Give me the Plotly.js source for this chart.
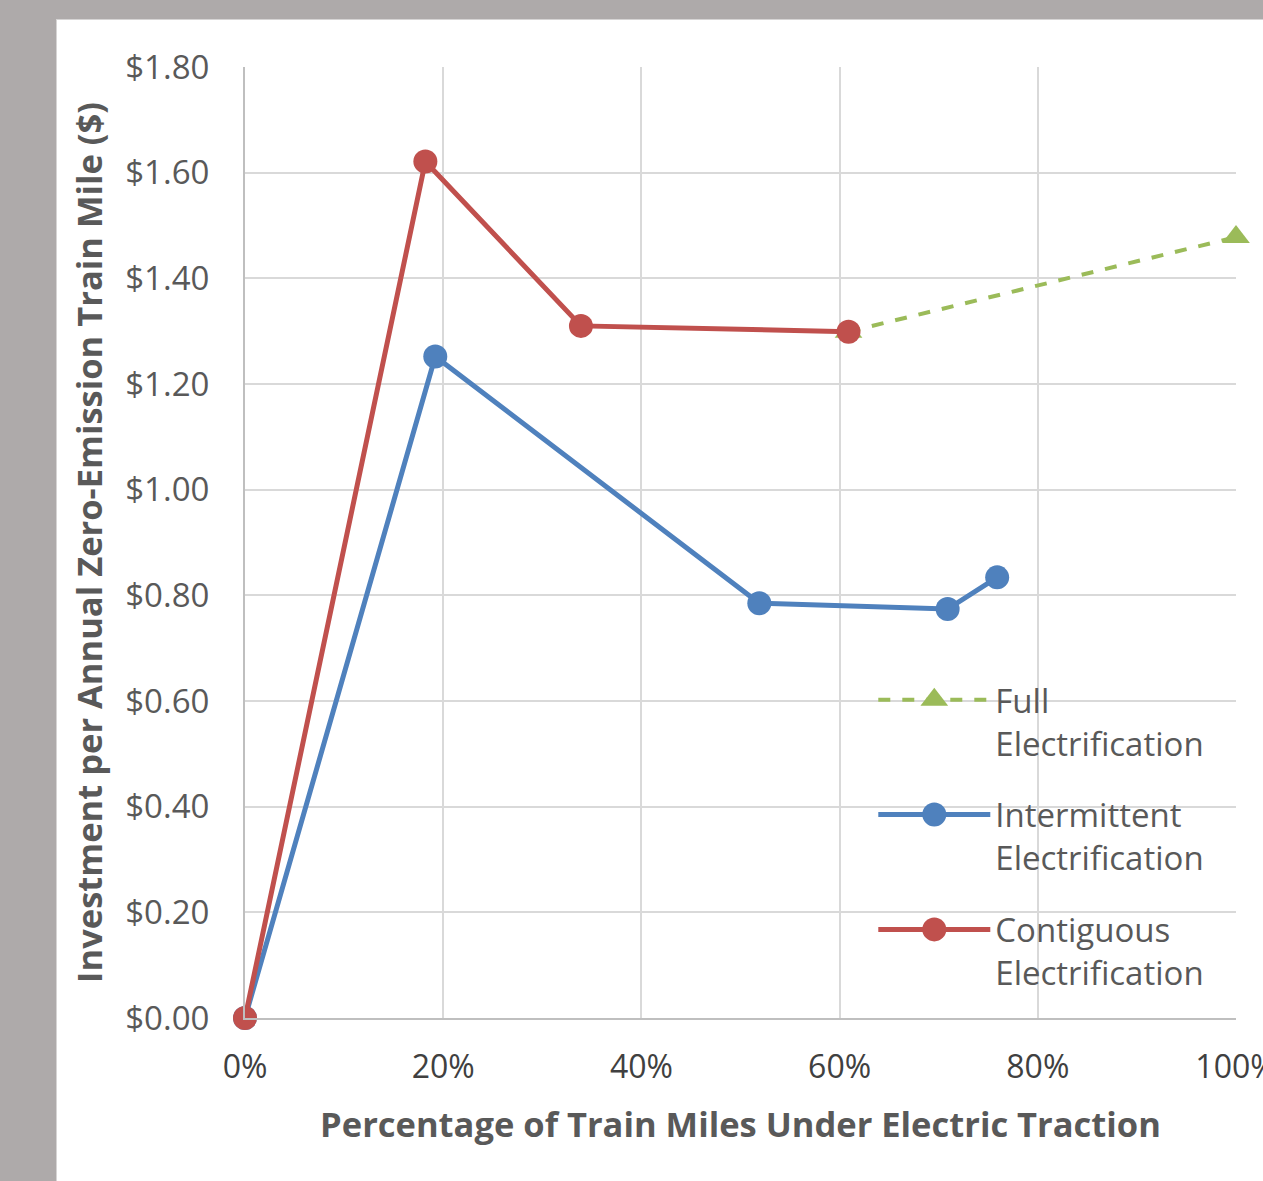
<!DOCTYPE html>
<html>
<head>
<meta charset="utf-8">
<script src="https://cdn.plot.ly/plotly-3.0.1.min.js"></script>
<style>
  html, body { margin:0; padding:0; width:1263px; height:1181px; overflow:hidden; background:#AEAAAA; }
  #panel { position:absolute; left:56px; top:19px; width:1260px; height:1200px; background:#fff; border-left:2px solid #D6D4D4; border-top:2px solid #D6D4D4; }
  #chart { position:absolute; left:57px; top:20px; width:1250px; height:1161px; }
</style>
</head>
<body>
<div id="panel"></div>
<div id="chart"></div>
<script>
// Data
const seriesNames = ["Full<br>Electrification", "Intermittent<br>Electrification", "Contiguous<br>Electrification"];

const fullX = [0.609, 1.00];
const fullY = [1.299, 1.478];

const intermittentX = [0.00, 0.192, 0.519, 0.709, 0.759];
const intermittentY = [0.00, 1.252, 0.785, 0.774, 0.834];

const contiguousX = [0.00, 0.182, 0.339, 0.609];
const contiguousY = [0.00, 1.621, 1.310, 1.299];

const xTickVals = [0, 0.2, 0.4, 0.6, 0.8, 1.0];
const yTickVals = [0, 0.2, 0.4, 0.6, 0.8, 1.0, 1.2, 1.4, 1.6, 1.8];

const colors = { full: "#9BBB59", intermittent: "#4F81BD", contiguous: "#C0504D" };
const FONT = "Open Sans, Noto Sans, sans-serif";

const traces = [
  {
    x: fullX, y: fullY, name: seriesNames[0], legendgroup: "full", type: "scatter", mode: "lines+markers",
    cliponaxis: false,
    line: { color: colors.full, width: 4, dash: "dash" },
    marker: { symbol: "triangle-up", size: 24, color: colors.full }
  },
  {
    x: intermittentX, y: intermittentY, name: seriesNames[1], legendgroup: "inter", type: "scatter", mode: "lines+markers",
    cliponaxis: false,
    line: { color: colors.intermittent, width: 5 },
    marker: { symbol: "circle", size: 24, color: colors.intermittent }
  },
  {
    x: contiguousX, y: contiguousY, name: seriesNames[2], legendgroup: "contig", type: "scatter", mode: "lines+markers",
    cliponaxis: false,
    line: { color: colors.contiguous, width: 5 },
    marker: { symbol: "circle", size: 24, color: colors.contiguous }
  }
];

const layout = {
  width: 1250, height: 1161,
  margin: { l: 188, r: 71, t: 47, b: 163 },
  paper_bgcolor: "#ffffff",
  plot_bgcolor: "#ffffff",
  font: { family: FONT, size: 33, color: "#595959" },
  showlegend: true,
  legend: {
    x: 0.634, y: 0.364, xanchor: "left", yanchor: "top",
    bgcolor: "rgba(0,0,0,0)",
    font: { family: FONT, size: 33, color: "#595959" },
    itemwidth: 112,
    itemsizing: "trace",
    valign: "top",
    tracegroupgap: 26
  },
  xaxis: {
    range: [0, 1],
    tickvals: xTickVals,
    tickformat: ".0%",
    tickfont: { family: FONT, size: 32, color: "#404040" },
    ticklabelstandoff: 20,
    showgrid: true, gridcolor: "#D9D9D9", gridwidth: 2,
    showline: true, linecolor: "#BFBFBF", linewidth: 2,
    zeroline: false,
    ticks: "",
    fixedrange: true,
    title: { text: "<b>Percentage of Train Miles Under Electric Traction</b>", font: { family: FONT, size: 34.5, color: "#595959" }, standoff: 26 }
  },
  yaxis: {
    range: [0, 1.8],
    tickvals: yTickVals,
    tickformat: "$.2f",
    tickfont: { family: FONT, size: 33, color: "#595959" },
    ticklabelstandoff: 27,
    showgrid: true, gridcolor: "#D9D9D9", gridwidth: 2,
    showline: true, linecolor: "#BFBFBF", linewidth: 2,
    mirror: false,
    zeroline: false,
    ticks: "",
    fixedrange: true,
    title: { text: "<b>Investment per Annual Zero-Emission Train Mile ($)</b>", font: { family: FONT, size: 34.5, color: "#595959" }, standoff: 12 }
  }
};

Plotly.newPlot("chart", traces, layout, { displayModeBar: false, staticPlot: true }).then(function (gd) {
  // Enlarge legend symbols to match the larger markers of the reference legend
  gd.querySelectorAll(".legend path.scatterpts").forEach(function (p) {
    const t = p.getAttribute("transform") || "";
    p.setAttribute("transform", t + " scale(1.5)");
  });
});
</script>
</body>
</html>
